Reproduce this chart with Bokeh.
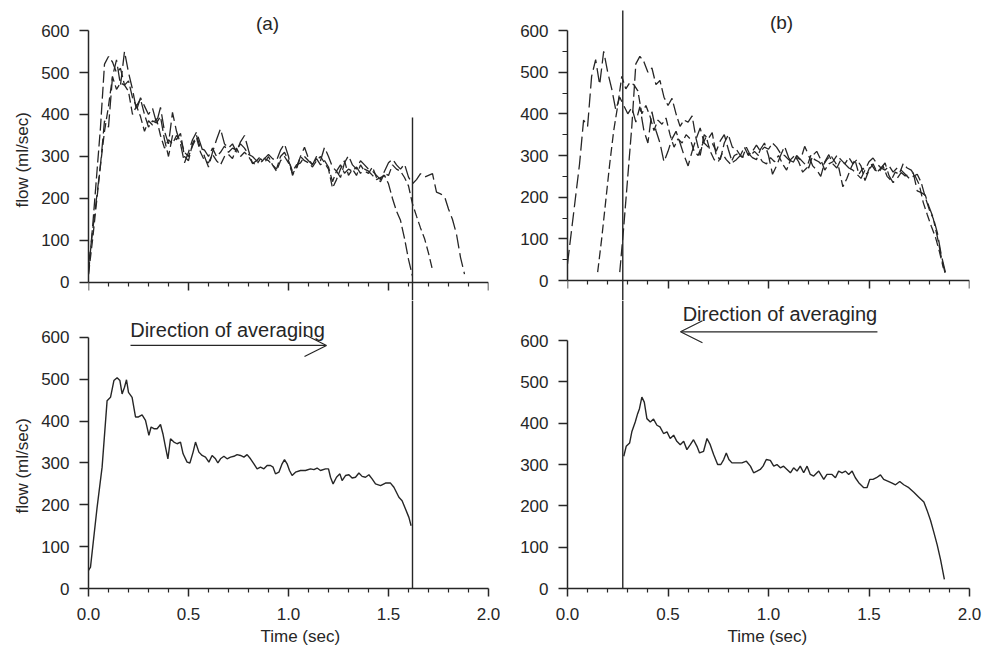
from bokeh.plotting import figure
from bokeh.layouts import column, row
from bokeh.models import Range1d, FixedTicker, Label, Arrow, OpenHead, CustomJSTickFormatter, Title
from bokeh.embed import file_html
from bokeh.resources import INLINE

# ---------------- data ----------------
# common sampling times (sec) of the three individual beats, aligned at start (panel a)
t_grid = [0.00, 0.02, 0.04, 0.06, 0.08, 0.10, 0.12, 0.14, 0.16, 0.18,
          0.20, 0.22, 0.24, 0.26, 0.28, 0.30, 0.32, 0.34, 0.36, 0.38,
          0.40, 0.42, 0.44, 0.46, 0.48, 0.50, 0.52, 0.54, 0.56, 0.58,
          0.60, 0.62, 0.64, 0.66, 0.68, 0.70, 0.72, 0.74, 0.76, 0.78,
          0.80, 0.82, 0.84, 0.86, 0.88, 0.90, 0.92, 0.94, 0.96, 0.98,
          1.00, 1.02, 1.04, 1.06, 1.08, 1.10, 1.12, 1.14, 1.16, 1.18,
          1.20, 1.22, 1.24, 1.26, 1.28, 1.30, 1.32, 1.34, 1.36, 1.38,
          1.40, 1.42, 1.44, 1.46, 1.48, 1.50, 1.52, 1.54, 1.56, 1.58,
          1.60, 1.62, 1.64, 1.66, 1.68, 1.70, 1.72, 1.74, 1.76, 1.78,
          1.80, 1.82, 1.84, 1.86, 1.88]

flow_beat1 = [20, 130, 250, 370, 520, 538, 525, 500, 510, 470,
              480, 440, 420, 437, 400, 370, 385, 380, 395, 340,
              300, 350, 340, 355, 300, 290, 330, 350, 320, 315,
              300, 320, 300, 310, 325, 310, 320, 315, 330, 320,
              305, 300, 290, 285, 295, 290, 280, 270, 300, 310,
              290, 265, 280, 285, 300, 290, 280, 295, 280, 290,
              275, 240, 265, 280, 260, 270, 265, 275, 260, 270,
              265, 255, 245, 250, 255, 235, 200, 170, 148, 105,
              55, 15]

flow_beat2 = [20, 100, 190, 280, 360, 420, 490, 460, 475, 470,
              455, 400, 420, 395, 360, 385, 375, 390, 350, 320,
              340, 330, 350, 340, 310, 300, 325, 345, 310, 290,
              285, 305, 290, 280, 300, 305, 295, 320, 300, 310,
              300, 285, 280, 295, 285, 300, 280, 265, 290, 300,
              285, 260, 270, 300, 290, 285, 275, 290, 300, 285,
              270, 225, 245, 270, 290, 255, 270, 255, 280, 265,
              260, 275, 250, 240, 260, 255, 280, 270, 265, 250,
              230, 187, 158, 130, 105, 70, 30]

flow_beat3 = [40, 120, 200, 280, 385, 370, 490, 530, 470, 550,
              500, 460, 410, 440, 420, 400, 415, 380, 417, 360,
              330, 405, 360, 330, 285, 310, 340, 358, 330, 300,
              275, 310, 340, 366, 330, 320, 330, 310, 335, 350,
              315, 283, 290, 300, 295, 305, 295, 290, 315, 330,
              300, 255, 275, 300, 322, 295, 280, 300, 290, 322,
              300, 275, 265, 250, 285, 302, 280, 270, 290, 280,
              270, 265, 255, 245, 265, 285, 294, 280, 270, 282,
              251, 235, 245, 259, 251, 255, 259, 215, 211, 205,
              175, 150, 115, 60, 20]

# time offsets that align the beat ends (panel b)
shift_b = [0.26, 0.15, 0.0]

# averaged flow, panel (a) (averaging forward from the start)
t_avg_a = [0.0, 0.01, 0.043, 0.068, 0.093, 0.11, 0.127, 0.143, 0.157, 0.168,
           0.18, 0.19, 0.2, 0.218, 0.235, 0.25, 0.268, 0.285, 0.302, 0.313,
           0.327, 0.343, 0.36, 0.372, 0.385, 0.397, 0.41, 0.427, 0.443, 0.46,
           0.473, 0.493, 0.507, 0.523, 0.535, 0.552, 0.568, 0.585, 0.602, 0.618,
           0.635, 0.647, 0.66, 0.677, 0.693, 0.71, 0.727, 0.743, 0.76, 0.777,
           0.793, 0.81, 0.827, 0.843, 0.86, 0.877, 0.893, 0.91, 0.923, 0.935,
           0.952, 0.968, 0.98, 0.993, 1.005, 1.018, 1.035, 1.06, 1.085, 1.11,
           1.127, 1.143, 1.16, 1.185, 1.2, 1.21, 1.223, 1.24, 1.257, 1.268,
           1.285, 1.302, 1.318, 1.335, 1.352, 1.368, 1.385, 1.402, 1.418, 1.435,
           1.46, 1.485, 1.51, 1.527, 1.552, 1.568, 1.585, 1.602, 1.613]
flow_avg_a = [43, 51, 194, 290, 449, 457, 497, 504, 497, 465,
              481, 499, 469, 457, 410, 410, 415, 402, 366, 386,
              382, 382, 392, 370, 338, 310, 358, 350, 346, 350,
              322, 302, 300, 326, 350, 326, 318, 314, 302, 318,
              310, 300, 310, 316, 310, 314, 316, 320, 318, 314,
              320, 310, 298, 286, 290, 286, 294, 294, 290, 274,
              278, 298, 308, 298, 282, 270, 278, 282, 282, 286,
              284, 288, 282, 286, 286, 266, 250, 266, 274, 258,
              270, 272, 264, 266, 276, 268, 266, 272, 262, 250,
              246, 252, 252, 242, 218, 210, 190, 170, 150]

# averaged flow, panel (b) (averaging backward from the end)
t_avg_b = [0.28, 0.292, 0.309, 0.32, 0.337, 0.349, 0.358, 0.37, 0.382, 0.395,
           0.412, 0.428, 0.445, 0.46, 0.478, 0.495, 0.511, 0.528, 0.544, 0.561,
           0.578, 0.594, 0.611, 0.627, 0.644, 0.657, 0.677, 0.694, 0.71, 0.727,
           0.747, 0.763, 0.777, 0.79, 0.803, 0.818, 0.843, 0.868, 0.89, 0.91,
           0.926, 0.943, 0.959, 0.973, 0.989, 1.009, 1.026, 1.042, 1.059, 1.075,
           1.092, 1.109, 1.125, 1.142, 1.158, 1.175, 1.192, 1.208, 1.225, 1.25,
           1.275, 1.291, 1.316, 1.333, 1.349, 1.366, 1.383, 1.399, 1.416, 1.432,
           1.449, 1.474, 1.49, 1.504, 1.52, 1.537, 1.557, 1.573, 1.593, 1.615,
           1.632, 1.653, 1.673, 1.698, 1.723, 1.748, 1.773, 1.789, 1.806, 1.822,
           1.839, 1.856, 1.875]
flow_avg_b = [320, 344, 352, 379, 403, 423, 435, 463, 451, 411,
              403, 410, 395, 391, 375, 379, 363, 371, 356, 348,
              356, 336, 348, 360, 344, 328, 332, 363, 348, 324,
              300, 300, 312, 328, 312, 304, 304, 304, 308, 296,
              280, 284, 288, 296, 312, 310, 296, 300, 292, 296,
              288, 280, 292, 284, 296, 280, 296, 276, 272, 284,
              264, 276, 276, 268, 284, 280, 284, 276, 284, 268,
              256, 244, 244, 264, 264, 268, 275, 264, 260, 255,
              251, 259, 251, 244, 233, 221, 209, 189, 165, 137,
              106, 70, 22]

# cut-off (alignment) lines
cut_a_time, cut_a_top = 1.62, 393
cut_b_time, cut_b_top = 0.275, 648

# ticks
x_ticks = [0.0, 0.5, 1.0, 1.5, 2.0]
x_minor = [0.1, 0.2, 0.3, 0.4, 0.6, 0.7, 0.8, 0.9, 1.1, 1.2, 1.3, 1.4, 1.6, 1.7, 1.8, 1.9]
y_ticks = [0, 100, 200, 300, 400, 500, 600]
y_minor_tr = [50, 150, 250, 350, 450, 550]

# ---------------- styling ----------------
FONT = "Liberation Sans"
INK = "#262626"
DASHES = ["12 4", "9 4", "14 5"]


def make_panel(width, height, y0, y1, b_left, b_right, b_bottom, top_panel, y_minor):
    p = figure(width=width, height=height, x_range=Range1d(0, 2.0), y_range=Range1d(y0, y1),
               output_backend="svg", toolbar_location=None, title=None,
               min_border_left=b_left, min_border_right=b_right,
               min_border_top=0, min_border_bottom=b_bottom)
    p.xgrid.visible = False
    p.ygrid.visible = False
    p.outline_line_color = None
    p.background_fill_color = "white"
    p.border_fill_color = "white"
    for ax in (p.xaxis[0], p.yaxis[0]):
        ax.axis_line_color = INK
        ax.axis_line_width = 1.5
        ax.major_tick_line_color = INK
        ax.major_tick_line_width = 1.5
        ax.minor_tick_line_color = INK
        ax.minor_tick_line_width = 1.2
        ax.major_tick_in = 0
        ax.minor_tick_in = 0
        ax.major_label_text_font = FONT
        ax.major_label_text_font_size = "17px"
        ax.major_label_text_color = INK
    xa = p.xaxis[0]
    xa.ticker = FixedTicker(ticks=x_ticks, minor_ticks=x_minor)
    xa.bounds = (0, 2.0)
    xa.major_tick_out = 8
    xa.minor_tick_out = 4
    xa.major_label_standoff = 11
    if top_panel:
        xa.fixed_location = 0
        xa.formatter = CustomJSTickFormatter(code="return '';")
    else:
        xa.formatter = CustomJSTickFormatter(code="return tick.toFixed(1);")
    ya = p.yaxis[0]
    ya.ticker = FixedTicker(ticks=y_ticks, minor_ticks=y_minor)
    ya.bounds = (0, 600)
    ya.major_tick_out = 9
    ya.minor_tick_out = 5
    ya.major_label_standoff = 10
    return p


def text(p, x, y, s, size="18px", baseline="middle"):
    p.add_layout(Label(x=x, y=y, text=s, text_font=FONT, text_font_size=size, text_color=INK,
                       text_align="center", text_baseline=baseline))


def side_title(p, s, side, offset, standoff):
    p.add_layout(Title(text=s, align="left", offset=offset, standoff=standoff,
                       text_font=FONT, text_font_size="17px", text_font_style="normal",
                       text_color=INK), side)


beats = [flow_beat1, flow_beat2, flow_beat3]

# top-left: beats aligned at start
tl_y0, tl_y1 = -42.86, 671.43
tl = make_panel(500, 300, tl_y0, tl_y1, 88, 12, 0, True, [])
for k, fl in enumerate(beats):
    tl.line(t_grid[:len(fl)], fl, line_color=INK, line_width=1.3, line_dash=DASHES[k])
tl.segment(x0=[cut_a_time], y0=[cut_a_top], x1=[cut_a_time], y1=[tl_y0],
           line_color=INK, line_width=1.4)
text(tl, 0.895, 617, "(a)", size="19px")
side_title(tl, "flow (ml/sec)", "left", 93, 14)

# top-right: beats aligned at end
tr_y0, tr_y1 = -48.0, 672.0
tr = make_panel(487, 300, tr_y0, tr_y1, 67, 18, 0, True, y_minor_tr)
for k, fl in enumerate(beats):
    tb = [t + shift_b[k] for t in t_grid[:len(fl)]]
    tr.line(tb, fl, line_color=INK, line_width=1.3, line_dash=DASHES[k])
tr.segment(x0=[cut_b_time], y0=[cut_b_top], x1=[cut_b_time], y1=[tr_y0],
           line_color=INK, line_width=1.4)
text(tr, 1.065, 619, "(b)", size="19px")

# bottom-left: averaged forward
bl_y1 = 688.4
bl = make_panel(500, 356, 0, bl_y1, 88, 12, 68, False, [])
bl.line(t_avg_a, flow_avg_a, line_color=INK, line_width=1.4)
bl.segment(x0=[cut_a_time], y0=[bl_y1], x1=[cut_a_time], y1=[0], line_color=INK, line_width=1.4)
text(bl, 0.695, 619, "Direction of averaging", size="20px", baseline="alphabetic")
bl.add_layout(Arrow(end=OpenHead(size=22, line_color=INK, line_width=1.2),
                    x_start=0.21, y_start=581, x_end=1.19, y_end=581,
                    line_color=INK, line_width=1.2))
side_title(bl, "flow (ml/sec)", "left", 75, 14)
side_title(bl, "Time (sec)", "below", 172, 4)

# bottom-right: averaged backward
br_y1 = 696.8
br = make_panel(487, 356, 0, br_y1, 67, 18, 63, False, [])
br.line(t_avg_b, flow_avg_b, line_color=INK, line_width=1.4)
br.segment(x0=[cut_b_time], y0=[br_y1], x1=[cut_b_time], y1=[0], line_color=INK, line_width=1.4)
text(br, 1.057, 663, "Direction of averaging", size="20px", baseline="alphabetic")
br.add_layout(Arrow(end=OpenHead(size=22, line_color=INK, line_width=1.2),
                    x_start=1.542, y_start=621, x_end=0.562, y_end=621,
                    line_color=INK, line_width=1.2))
side_title(br, "Time (sec)", "below", 160, 4)

layout = column(row(tl, tr), row(bl, br))
open("out.html", "w").write(file_html(layout, INLINE))
